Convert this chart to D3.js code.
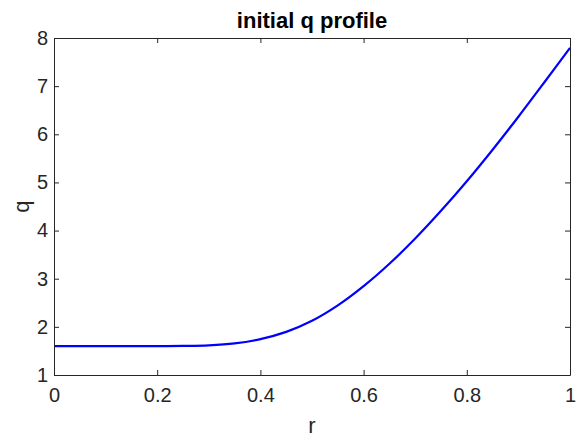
<!DOCTYPE html>
<html><head><meta charset="utf-8">
<script src="https://cdn.jsdelivr.net/npm/d3@7"></script>
<style>body{margin:0;background:#fff}svg{display:block}</style>
</head><body>
<script>
const rValues = [0,0.05,0.1,0.15,0.2,0.25,0.3,0.35,0.4,0.45,0.5,0.55,0.6,0.65,0.7,0.75,0.8,0.85,0.9,0.95,1.0];
const qValues = [1.6,1.6,1.6,1.6,1.6,1.603,1.615,1.655,1.745,1.895,2.125,2.445,2.845,3.31,3.835,4.41,5.025,5.68,6.365,7.075,7.795];
const xTicks = [0,0.2,0.4,0.6,0.8,1];
const yTicks = [1,2,3,4,5,6,7,8];
const title = "initial q profile", xLabel = "r", yLabel = "q";

const W=581,H=437, L=54,R=570,T=38,B=375;
const svg=d3.select("body").append("svg").attr("width",W).attr("height",H);
const x=d3.scaleLinear().domain([0,1]).range([L,R]);
const y=d3.scaleLinear().domain([1,8]).range([B,T]);
const ac="#262626", font="'Liberation Sans', Arial, sans-serif";

svg.append("rect").attr("x",L).attr("y",T).attr("width",R-L).attr("height",B-T).attr("fill","#fff");

const data=rValues.map((r,i)=>[r,qValues[i]]);
svg.append("path").datum(data).attr("fill","none").attr("stroke","#0000ff").attr("stroke-width",2.2)
 .attr("d",d3.line().x(d=>x(d[0])).y(d=>y(d[1])).curve(d3.curveCatmullRom.alpha(0.5)));

function styleAxis(g){g.select(".domain").attr("stroke",ac);g.selectAll(".tick line").attr("stroke",ac);
 g.selectAll("text").attr("fill",ac).style("font-family",font).style("font-size","20px");}
const fmt=d=>String(d);
svg.append("g").attr("transform",`translate(0,${B})`).call(d3.axisBottom(x).tickValues(xTicks).tickFormat(fmt).tickSizeInner(-5).tickSizeOuter(0).tickPadding(13)).call(styleAxis);
svg.append("g").attr("transform",`translate(0,${T})`).call(d3.axisTop(x).tickValues(xTicks).tickFormat("").tickSizeInner(-5).tickSizeOuter(0)).call(styleAxis);
svg.append("g").attr("transform",`translate(${L},0)`).call(d3.axisLeft(y).tickValues(yTicks).tickFormat(fmt).tickSizeInner(-5).tickSizeOuter(0).tickPadding(6)).call(styleAxis);
svg.append("g").attr("transform",`translate(${R},0)`).call(d3.axisRight(y).tickValues(yTicks).tickFormat("").tickSizeInner(-5).tickSizeOuter(0)).call(styleAxis);

svg.append("text").attr("x",(L+R)/2).attr("y",27.5).attr("text-anchor","middle").attr("fill","#000")
 .style("font-family",font).style("font-size","22px").style("font-weight","bold").text(title);
svg.append("text").attr("x",(L+R)/2).attr("y",432.5).attr("text-anchor","middle").attr("fill",ac)
 .style("font-family",font).style("font-size","22px").text(xLabel);
svg.append("text").attr("transform",`translate(28.5,${(T+B)/2}) rotate(-90)`).attr("text-anchor","middle").attr("fill",ac)
 .style("font-family",font).style("font-size","22px").text(yLabel);
</script>
</body></html>
